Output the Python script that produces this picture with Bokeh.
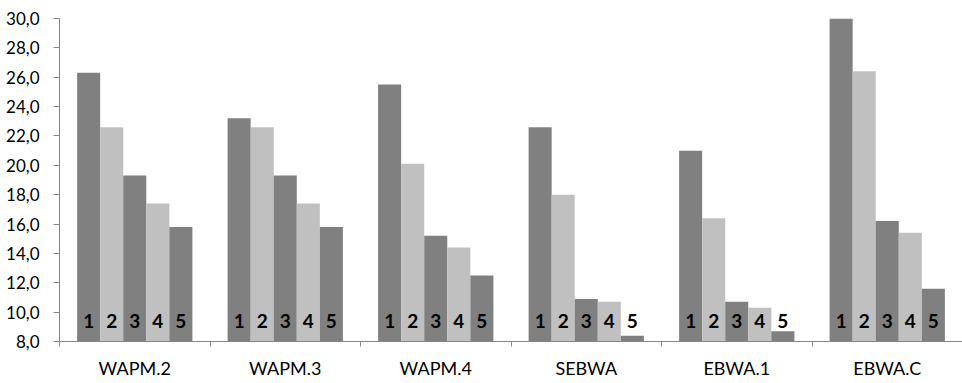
from bokeh.plotting import figure
from bokeh.models import Range1d, FixedTicker, CustomJSTickFormatter, ColumnDataSource
from bokeh.core.properties import value
from bokeh.embed import file_html
from bokeh.resources import INLINE

categories = ["WAPM.2", "WAPM.3", "WAPM.4", "SEBWA", "EBWA.1", "EBWA.C"]
series_labels = ["1", "2", "3", "4", "5"]
s1 = [26.3, 23.2, 25.5, 22.6, 21.0, 30.0]
s2 = [22.6, 22.6, 20.1, 18.0, 16.4, 26.4]
s3 = [19.3, 19.3, 15.2, 10.9, 10.7, 16.2]
s4 = [17.4, 17.4, 14.4, 10.7, 10.3, 15.4]
s5 = [15.8, 15.8, 12.5, 8.4, 8.7, 11.6]
series = [s1, s2, s3, s4, s5]
y_ticks = [8, 10, 12, 14, 16, 18, 20, 22, 24, 26, 28, 30]

DARK = "#808080"
LIGHT = "#c0c0c0"
AXIS = "#868686"
FONT = "Lato"

p = figure(width=962, height=383, output_backend="svg", toolbar_location=None,
           x_range=Range1d(0, len(categories)), y_range=Range1d(8, 30),
           min_border_left=59, min_border_top=18, min_border_bottom=42, min_border_right=0)
p.outline_line_color = None
p.xgrid.grid_line_color = None
p.ygrid.grid_line_color = None
p.background_fill_color = "white"
p.border_fill_color = "white"

group_w = 0.766
bar_w = group_w / len(series)
start = (1 - group_w) / 2

lx, ly, lt = [], [], []
for j, vals in enumerate(series):
    xs = [i + start + (j + 0.5) * bar_w for i in range(len(categories))]
    src = ColumnDataSource(dict(x=xs, top=vals))
    p.vbar(x="x", top="top", bottom=8, width=bar_w, source=src,
           fill_color=DARK if j % 2 == 0 else LIGHT, line_color=None)
    for x in xs:
        lx.append(x)
        ly.append(9.4)
        lt.append(series_labels[j])

p.text(x=lx, y=ly, text=lt, text_align="center", text_baseline="middle",
       text_font=value(FONT), text_font_style="bold", text_font_size="19px",
       text_color="black")

# y axis
p.yaxis.ticker = FixedTicker(ticks=y_ticks)
p.yaxis.formatter = CustomJSTickFormatter(code="return tick.toFixed(1).replace('.', ',');")
p.yaxis.axis_line_color = AXIS
p.yaxis.major_tick_line_color = AXIS
p.yaxis.major_tick_out = 6
p.yaxis.major_tick_in = 0
p.yaxis.minor_tick_line_color = None
p.yaxis.major_label_standoff = 14
p.yaxis.major_label_text_font = FONT
p.yaxis.major_label_text_font_size = "17px"
p.yaxis.major_label_text_color = "black"

# x axis
p.xaxis.ticker = FixedTicker(ticks=[i + 0.5 for i in range(len(categories))],
                             minor_ticks=list(range(len(categories) + 1)))
p.xaxis.formatter = CustomJSTickFormatter(args=dict(cats=categories),
                                          code="return cats[Math.floor(tick)];")
p.xaxis.axis_line_color = AXIS
p.xaxis.major_tick_line_color = None
p.xaxis.major_tick_out = 0
p.xaxis.major_tick_in = 0
p.xaxis.minor_tick_line_color = AXIS
p.xaxis.minor_tick_out = 5
p.xaxis.minor_tick_in = 0
p.xaxis.major_label_standoff = 10
p.xaxis.major_label_text_font = FONT
p.xaxis.major_label_text_font_size = "18px"
p.xaxis.major_label_text_color = "black"

open("out.html", "w").write(file_html(p, INLINE))
